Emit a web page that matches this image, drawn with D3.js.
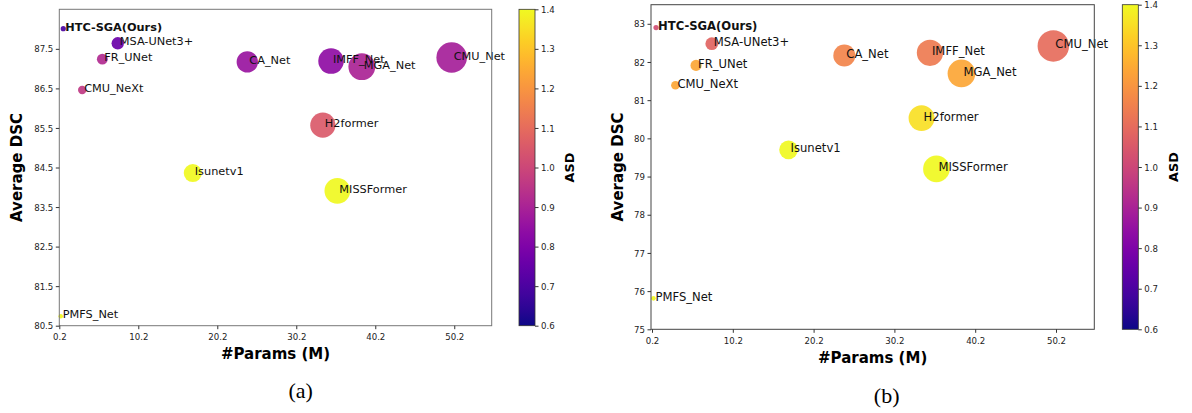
<!DOCTYPE html>
<html>
<head>
<meta charset="utf-8">
<script src="https://cdn.jsdelivr.net/npm/d3@7"></script>
<style>
  html, body { margin: 0; padding: 0; background: #fff; }
  svg { display: block; font-family: "DejaVu Sans", sans-serif; }
</style>
</head>
<body>
<svg id="chart" width="1192" height="413"></svg>
<script>
// ---- data ----
const models = ["HTC-SGA(Ours)", "MSA-UNet3+", "FR_UNet", "CMU_NeXt", "CA_Net", "Isunetv1",
                "IMFF_Net", "MGA_Net", "CMU_Net", "H2former", "MISSFormer", "PMFS_Net"];
const params = [0.7, 7.6, 5.65, 3.1, 24.0, 17.1, 34.6, 38.5, 49.87, 33.56, 35.4, 0.38];
const dscA = [88.01, 87.64, 87.24, 86.46, 87.17, 84.36, 87.19, 87.05, 87.28, 85.57, 83.91, 80.74];
const asdA = [0.70, 0.76, 0.92, 0.96, 0.86, 1.40, 0.84, 0.90, 0.89, 1.05, 1.40, 1.40];
const dscB = [82.90, 82.48, 81.91, 81.39, 82.17, 79.70, 82.24, 81.70, 82.42, 80.53, 79.20, 75.81];
const asdB = [1.02, 1.08, 1.24, 1.24, 1.16, 1.40, 1.14, 1.24, 1.10, 1.35, 1.40, 1.40];
const xTicks = [0.2, 10.2, 20.2, 30.2, 40.2, 50.2];
const yTicksA = [80.5, 81.5, 82.5, 83.5, 84.5, 85.5, 86.5, 87.5];
const yTicksB = [75, 76, 77, 78, 79, 80, 81, 82, 83];
const cbTicks = [0.6, 0.7, 0.8, 0.9, 1.0, 1.1, 1.2, 1.3, 1.4];
const asdRange = [0.6, 1.4];
const boldModel = "HTC-SGA(Ours)";

// ---- layout ----
const panels = [
  { id: "a", dsc: dscA, asd: asdA, yTicks: yTicksA, yFmt: d3.format(".1f"),
    left: 59.3, right: 491.7, top: 9.3, bottom: 325.7,
    xDom: [0.2, 54.94], yDom: [80.5, 88.5], area: 4.6, labelSize: 11.3,
    frame: "#777", cbL: 519, cbR: 535,
    yLabX: 21.7, xLabY: 358.5, asdX: 574, capX: 300.7, capY: 397.5, xTickBase: 14.3 },
  { id: "b", dsc: dscB, asd: asdB, yTicks: yTicksB, yFmt: d3.format("d"),
    left: 651, right: 1094.3, top: 4.7, bottom: 329.3,
    xDom: [0.076, 54.94], yDom: [75, 83.5], area: 4.9, labelSize: 11.6,
    frame: "#444", cbL: 1122.3, cbR: 1138.3,
    yLabX: 623, xLabY: 362.5, asdX: 1178, capX: 886.7, capY: 402.5, xTickBase: 15 }
];

const svg = d3.select("#chart");
const color = d3.scaleSequential(d3.interpolatePlasma).domain(asdRange);

// gradient for colorbar
const defs = svg.append("defs");
const grad = defs.append("linearGradient").attr("id", "plasmaGrad")
  .attr("x1", 0).attr("y1", 1).attr("x2", 0).attr("y2", 0);
d3.range(0, 1.0001, 0.05).forEach(t => {
  grad.append("stop").attr("offset", t).attr("stop-color", d3.interpolatePlasma(t));
});

panels.forEach(p => {
  const x = d3.scaleLinear().domain(p.xDom).range([p.left, p.right]);
  const y = d3.scaleLinear().domain(p.yDom).range([p.bottom, p.top]);
  const rScale = v => Math.sqrt(p.area * v + 3.5);
  const g = svg.append("g");

  const rows = models.map((m, i) => ({ m, px: params[i], d: p.dsc[i], a: p.asd[i] }));

  // points
  g.selectAll("circle.pt").data(rows).enter().append("circle")
    .attr("cx", r => x(r.px)).attr("cy", r => y(r.d))
    .attr("r", r => rScale(r.px))
    .attr("fill", r => color(r.a)).attr("fill-opacity", 0.92);

  // labels
  g.selectAll("text.lbl").data(rows).enter().append("text")
    .attr("x", r => x(r.px) + 2).attr("y", r => y(r.d) - 1.5)
    .attr("dominant-baseline", "central")
    .attr("font-size", p.labelSize)
    .attr("font-weight", r => r.m === boldModel ? "bold" : "normal")
    .attr("fill", "#111")
    .text(r => r.m);

  // frame
  g.append("rect").attr("x", p.left).attr("y", p.top)
    .attr("width", p.right - p.left).attr("height", p.bottom - p.top)
    .attr("fill", "none").attr("stroke", p.frame).attr("stroke-width", 1);

  // x axis
  const xa = g.append("g").attr("transform", `translate(0,${p.bottom})`)
    .call(d3.axisBottom(x).tickValues(xTicks).tickFormat(d3.format(".1f"))
      .tickSize(3.5).tickSizeOuter(0));
  xa.select(".domain").remove();
  xa.selectAll("line").attr("stroke", "#333");
  xa.selectAll("text").attr("font-size", 8.6).attr("font-family", "DejaVu Sans")
    .attr("fill", "#222").attr("y", p.xTickBase).attr("dy", 0);

  // y axis
  const ya = g.append("g").attr("transform", `translate(${p.left},0)`)
    .call(d3.axisLeft(y).tickValues(p.yTicks).tickFormat(p.yFmt)
      .tickSize(3.5).tickSizeOuter(0).tickPadding(2.5));
  ya.select(".domain").remove();
  ya.selectAll("line").attr("stroke", "#333");
  ya.selectAll("text").attr("font-size", 8.6).attr("font-family", "DejaVu Sans")
    .attr("fill", "#222").attr("dy", "0.36em");

  // axis labels
  svg.append("text").attr("x", (p.left + p.right) / 2).attr("y", p.xLabY)
    .attr("text-anchor", "middle").attr("font-size", 15).attr("font-weight", "bold")
    .attr("fill", "#000").text("#Params (M)");
  svg.append("text")
    .attr("transform", `translate(${p.yLabX},${(p.top + p.bottom) / 2}) rotate(-90)`)
    .attr("text-anchor", "middle").attr("font-size", 15).attr("font-weight", "bold")
    .attr("fill", "#000").text("Average DSC");

  // colorbar
  const cy = d3.scaleLinear().domain(asdRange).range([p.bottom, p.top]);
  svg.append("rect").attr("x", p.cbL).attr("y", p.top)
    .attr("width", p.cbR - p.cbL).attr("height", p.bottom - p.top)
    .attr("fill", "url(#plasmaGrad)").attr("stroke", "#333").attr("stroke-width", 0.8);
  const ca = svg.append("g").attr("transform", `translate(${p.cbR},0)`)
    .call(d3.axisRight(cy).tickValues(cbTicks).tickFormat(d3.format(".1f"))
      .tickSize(3.5).tickSizeOuter(0).tickPadding(2.5));
  ca.select(".domain").remove();
  ca.selectAll("line").attr("stroke", "#333");
  ca.selectAll("text").attr("font-size", 8.6).attr("font-family", "DejaVu Sans")
    .attr("fill", "#222").attr("dy", "0.36em");
  svg.append("text")
    .attr("transform", `translate(${p.asdX},${(p.top + p.bottom) / 2}) rotate(-90)`)
    .attr("text-anchor", "middle").attr("font-size", 12.8).attr("font-weight", "bold")
    .attr("fill", "#000").text("ASD");

  // caption
  svg.append("text").attr("x", p.capX).attr("y", p.capY)
    .attr("text-anchor", "middle").attr("font-size", 22)
    .attr("font-family", "Liberation Serif, serif").attr("fill", "#000")
    .text(`(${p.id})`);
});
</script>
</body>
</html>
